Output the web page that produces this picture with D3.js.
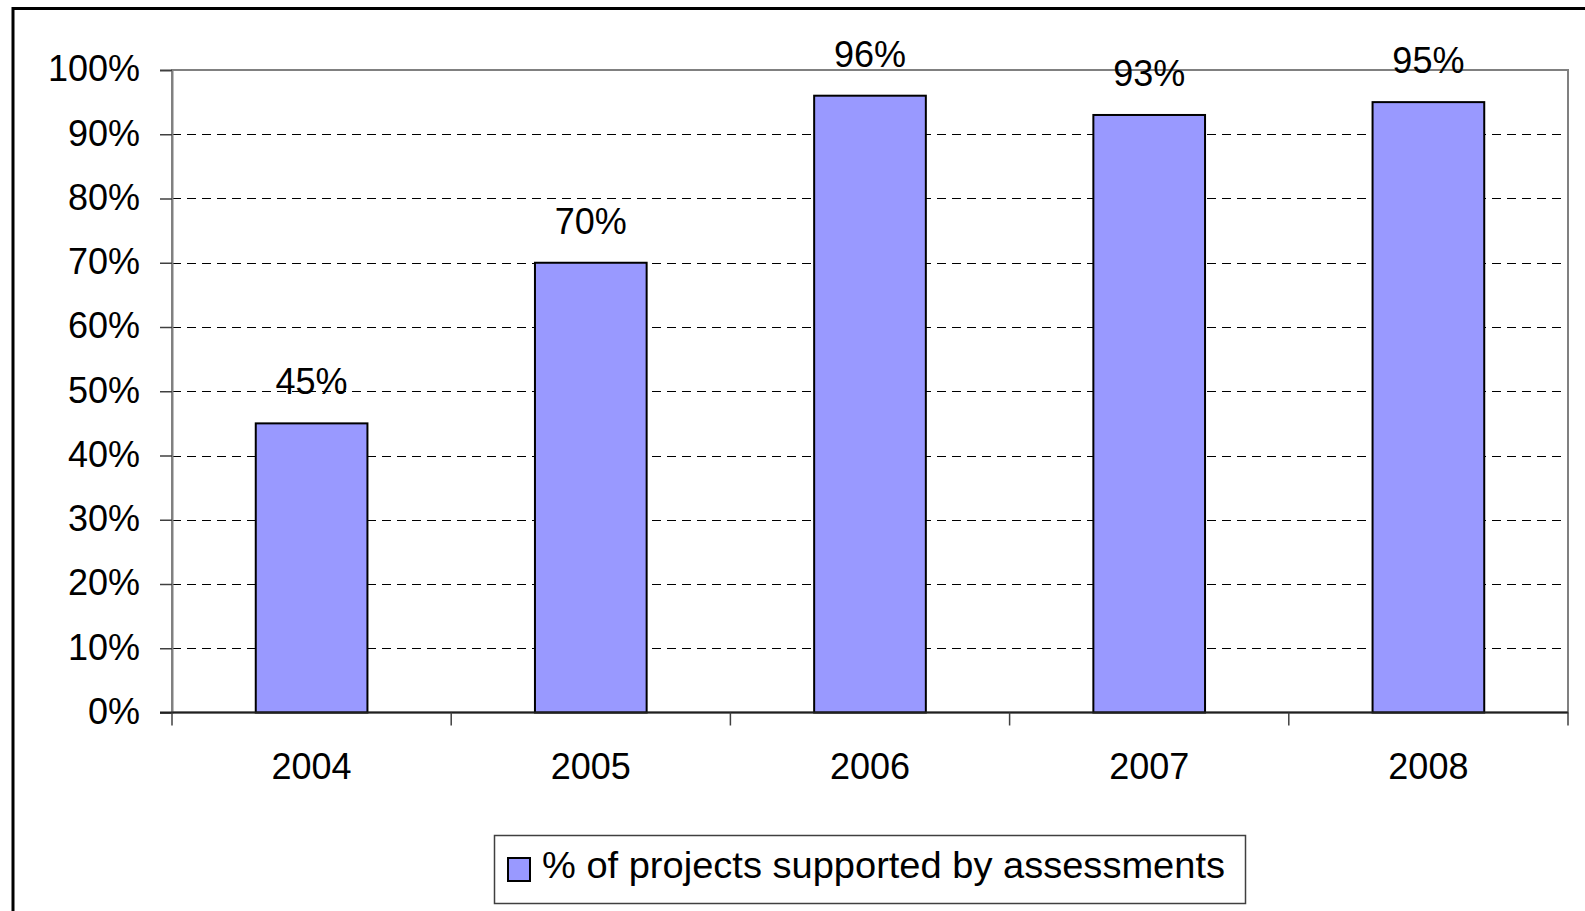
<!DOCTYPE html>
<html>
<head>
<meta charset="utf-8">
<script src="https://cdn.jsdelivr.net/npm/d3@7"></script>
<style>
  html, body { margin: 0; padding: 0; background: #fff; overflow: hidden; }
  svg { display: block; font-family: "Liberation Sans", Arial, sans-serif; }
</style>
</head>
<body>
<div id="chart"></div>
<script>
// Datos del gráfico
const years = ['2004', '2005', '2006', '2007', '2008'];
const values = [0.45, 0.70, 0.96, 0.93, 0.95];
const valueLabels = ['45%', '70%', '96%', '93%', '95%'];
const yTicks = [0, 0.1, 0.2, 0.3, 0.4, 0.5, 0.6, 0.7, 0.8, 0.9, 1.0];
const seriesName = '% of projects supported by assessments';

const W = 1585, H = 911;
const margin = {top: 70, right: 17, bottom: 198.5, left: 172};
const width = W - margin.left - margin.right,
      height = H - margin.top - margin.bottom;
const fontSize = 36;

const svg = d3.select('#chart').append('svg')
    .attr('width', W)
    .attr('height', H);

// Marco exterior
svg.append('rect')
    .attr('x', 13).attr('y', 8.5)
    .attr('width', 1700).attr('height', 1100)
    .attr('fill', 'none')
    .attr('stroke', '#000')
    .attr('stroke-width', 3);

const chart = svg.append('g')
    .attr('transform', 'translate(' + margin.left + ',' + margin.top + ')');

// Escalas
const x = d3.scaleBand()
    .domain(years)
    .range([0, width])
    .paddingInner(0.6)
    .paddingOuter(0.3);

const xCat = d3.scaleBand().domain(years).range([0, width]);

const y = d3.scaleLinear()
    .domain([0, 1])
    .range([height, 0]);

// Líneas de guía punteadas
chart.append('g')
    .selectAll('line')
    .data(yTicks.filter(d => d > 0 && d < 1))
    .enter()
    .append('line')
    .attr('x1', 0)
    .attr('x2', width - 4)
    .attr('y1', d => Math.round(y(d)) + 0.5)
    .attr('y2', d => Math.round(y(d)) + 0.5)
    .attr('stroke', '#000')
    .attr('stroke-width', 1)
    .attr('stroke-dasharray', '9,6');

// Borde del área de trazado
chart.append('rect')
    .attr('x', 0).attr('y', 0)
    .attr('width', width).attr('height', height)
    .attr('fill', 'none')
    .attr('stroke', '#808080')
    .attr('stroke-width', 2);

// Eje Y
const yAxis = d3.axisLeft(y)
    .tickValues(yTicks)
    .tickSize(12)
    .tickPadding(20)
    .tickFormat(d3.format('.0%'));

const gy = chart.append('g').call(yAxis);
gy.select('.domain').attr('stroke', '#808080').attr('stroke-width', 2);
gy.selectAll('.tick line').attr('stroke', '#404040').attr('stroke-width', 1.5);
gy.selectAll('.tick text')
    .attr('font-size', fontSize)
    .attr('fill', '#000')
    .attr('dy', '0.3em');

// Barras
chart.selectAll('.bar')
    .data(values)
    .enter()
    .append('rect')
    .attr('class', 'bar')
    .attr('x', (d, i) => x(years[i]))
    .attr('width', x.bandwidth())
    .attr('y', d => y(d))
    .attr('height', d => height - y(d))
    .attr('fill', '#9999FF')
    .attr('stroke', '#000')
    .attr('stroke-width', 2);

// Eje X
chart.append('line')
    .attr('x1', -12).attr('x2', width)
    .attr('y1', height).attr('y2', height)
    .attr('stroke', '#202020')
    .attr('stroke-width', 2);

chart.append('g')
    .selectAll('line')
    .data(years.concat(['end']))
    .enter()
    .append('line')
    .attr('x1', (d, i) => i < years.length ? xCat(d) : width)
    .attr('x2', (d, i) => i < years.length ? xCat(d) : width)
    .attr('y1', height)
    .attr('y2', height + 13)
    .attr('stroke', '#404040')
    .attr('stroke-width', 1.5);

chart.append('g')
    .selectAll('text')
    .data(years)
    .enter()
    .append('text')
    .attr('x', d => xCat(d) + xCat.bandwidth() / 2)
    .attr('y', height + 66)
    .attr('text-anchor', 'middle')
    .attr('font-size', fontSize)
    .text(d => d);

// Etiquetas de valor
chart.selectAll('.label')
    .data(values)
    .enter()
    .append('text')
    .attr('class', 'label')
    .attr('x', (d, i) => x(years[i]) + x.bandwidth() / 2)
    .attr('y', d => y(d) - 29)
    .attr('text-anchor', 'middle')
    .attr('font-size', fontSize)
    .text((d, i) => valueLabels[i]);

// Leyenda
const legend = svg.append('g');
legend.append('rect')
    .attr('x', 494.5).attr('y', 835.5)
    .attr('width', 751).attr('height', 68)
    .attr('fill', '#fff')
    .attr('stroke', '#404040')
    .attr('stroke-width', 1.5);
legend.append('rect')
    .attr('x', 508).attr('y', 858)
    .attr('width', 22).attr('height', 23)
    .attr('fill', '#9999FF')
    .attr('stroke', '#000')
    .attr('stroke-width', 2);
legend.append('text')
    .attr('x', 542)
    .attr('y', 878)
    .attr('font-size', fontSize)
    .attr('textLength', 683)
    .attr('lengthAdjust', 'spacingAndGlyphs')
    .text(seriesName);
</script>
</body>
</html>
